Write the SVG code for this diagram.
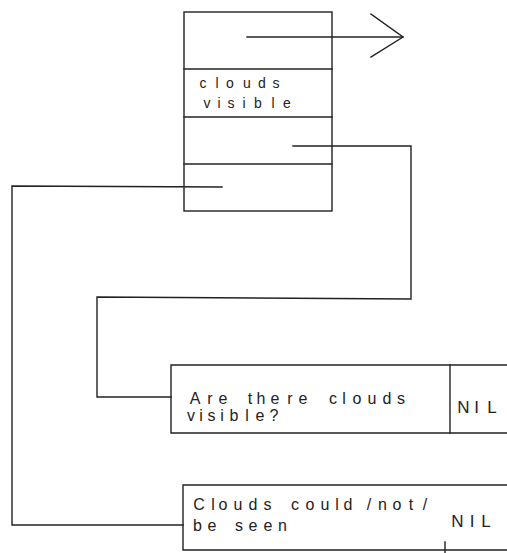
<svg xmlns="http://www.w3.org/2000/svg" width="507" height="553" viewBox="0 0 507 553">
<style>
.ln{fill:none;stroke:#222;stroke-width:1.4;stroke-linecap:square}
.tx{font-family:"Liberation Sans",Arial,sans-serif;fill:#222;font-size:16px;text-anchor:middle}
.tt{font-family:"Liberation Sans",Arial,sans-serif;fill:#222;font-size:14px;text-anchor:middle}
.nil{font-family:"Liberation Sans",Arial,sans-serif;fill:#222;font-size:17px;text-anchor:middle}
</style>
<rect width="507" height="553" fill="#fff"/>
<g id="record">
<rect class="ln" x="184" y="12" width="148" height="199"/>
<line class="ln" x1="184" y1="69" x2="332" y2="69"/>
<line class="ln" x1="184" y1="117" x2="332" y2="117"/>
<line class="ln" x1="184" y1="164" x2="332" y2="164"/>
<text class="tt" x="203 217 230 247 262 276" y="88">clouds</text>
<text class="tt" x="207 219 231 244 258 273 287" y="108">visible</text>
</g>
<g id="pointer-arrow">
<line class="ln" x1="247" y1="37" x2="403" y2="37"/>
<polyline class="ln" points="371,14 403,37 371,57"/>
</g>
<g id="question">
<polyline class="ln" points="512,365 171,365 171,433 512,433"/>
<line class="ln" x1="450" y1="365" x2="450" y2="433"/>
<text class="tx" x="195 210 223 237 250 261 275 290 303 318 333 344 357 372 387 401" y="404">Are there clouds</text>
<text class="tx" x="191 201 211.5 222 234 247 260 274" y="421">visible?</text>
<text class="nil" x="463.5 476.7 492" y="413">NIL</text>
</g>
<g id="answer">
<polyline class="ln" points="512,485 183,485 183,550 512,550"/>
<line class="ln" x1="445" y1="542" x2="445" y2="553"/>
<text class="tx" x="199 213 223 238 253 267.5 281 295 310 325 337 348 358 369 382.5 397 411 425" y="510">Clouds could /not/</text>
<text class="tx" x="197.5 212 225 239 253 268 282.5" y="531">be seen</text>
<text class="nil" x="457.5 472 486" y="527">NIL</text>
</g>
<g id="connectors">
<polyline class="ln" points="293,146 411,146 411,299 97,297 97,397 171,397"/>
<polyline class="ln" points="222,187 12,186 12,525 183,525"/>
</g>
</svg>
